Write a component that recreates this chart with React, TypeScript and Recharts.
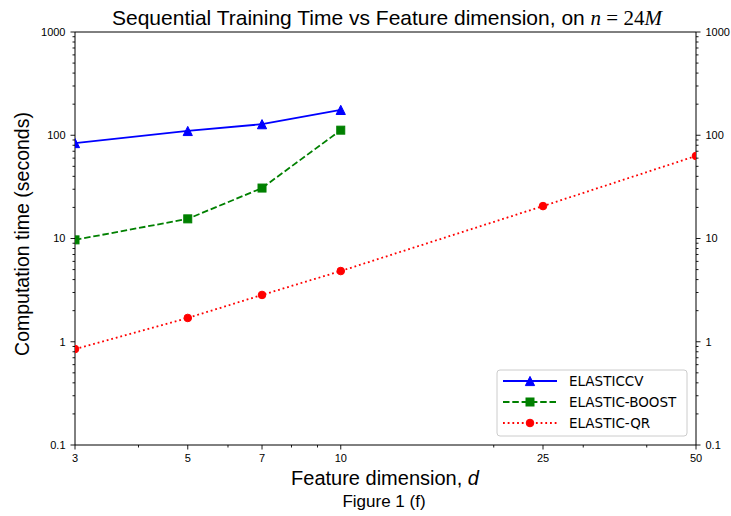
import React from 'react';
import { LineChart, Line, XAxis, YAxis, ReferenceLine } from 'recharts';

// Feature dimension d on the x axis
const featureDims = [3, 5, 7, 10, 25, 50];

// Training time in seconds for each method (missing where the method was not run)
const elasticCvSeconds = [84, 110, 128, 176];
const elasticBoostSeconds = [9.7, 15.5, 30.8, 112];
const elasticQrSeconds = [0.85, 1.7, 2.84, 4.84, 20.6, 63];

const seriesNames = ['ELASTICCV', 'ELASTIC-BOOST', 'ELASTIC-QR'];
const seriesColors = ['#0000ff', '#008000', '#ff0000'];

// Log-axis ticks: labelled majors and unlabelled minors
const xMajorTicks = [3, 5, 7, 10, 25, 50];
const xMinorTicks = [4, 6, 8, 9, 20, 30, 40];
const yMajorTicks = [0.1, 1, 10, 100, 1000];
const yMinorTicks = [
  0.2, 0.3, 0.4, 0.5, 0.6, 0.7, 0.8, 0.9,
  2, 3, 4, 5, 6, 7, 8, 9,
  20, 30, 40, 50, 60, 70, 80, 90,
  200, 300, 400, 500, 600, 700, 800, 900,
];
const yTickLabels = ['0.1', '1', '10', '100', '1000'];

const data = featureDims.map((d, i) => ({
  d,
  cv: elasticCvSeconds[i],
  boost: elasticBoostSeconds[i],
  qr: elasticQrSeconds[i],
}));

const W = 731;
const H = 516;
const GAP = 8;
const TICK_FONT = "'Liberation Sans', Arial, sans-serif";
const xTicks = [...xMajorTicks, ...xMinorTicks].sort((a, b) => a - b);
const yTicks = [...yMajorTicks, ...yMinorTicks].sort((a, b) => a - b);

const XTick = (props: any) => {
  const { x, y, payload } = props;
  const v = payload.value;
  const major = xMajorTicks.includes(v);
  const axisY = y - GAP;
  const len = major ? 4.5 : 2.5;
  return (
    <g>
      <line x1={x} x2={x} y1={axisY} y2={axisY + len} stroke="#000" strokeWidth={0.9} />
      {major && (
        <text x={x} y={axisY + 17} textAnchor="middle" fontSize={11} fontFamily={TICK_FONT} fill="#000">
          {String(v)}
        </text>
      )}
    </g>
  );
};

const makeYTick = (side: 'left' | 'right') => (props: any) => {
  const { x, y, payload } = props;
  const v = payload.value;
  const idx = yMajorTicks.indexOf(v);
  const major = idx >= 0;
  const dir = side === 'left' ? -1 : 1;
  const axisX = x - dir * GAP;
  const len = major ? 4.5 : 2.5;
  return (
    <g>
      <line x1={axisX} x2={axisX + dir * len} y1={y} y2={y} stroke="#000" strokeWidth={0.9} />
      {major && (
        <text
          x={axisX + dir * (len + 5)}
          y={y}
          dy="0.36em"
          textAnchor={side === 'left' ? 'end' : 'start'}
          fontSize={11}
          fontFamily={TICK_FONT}
          fill="#000"
        >
          {yTickLabels[idx]}
        </text>
      )}
    </g>
  );
};

type MarkerKind = 'triangle' | 'square' | 'circle';
const markerKinds: MarkerKind[] = ['triangle', 'square', 'circle'];

const Marker = ({ kind, cx, cy, color }: { kind: MarkerKind; cx: number; cy: number; color: string }) => {
  if (kind === 'triangle') {
    const s = 4.6;
    return (
      <polygon
        points={`${cx},${cy - s} ${cx - s},${cy + s} ${cx + s},${cy + s}`}
        fill={color}
        stroke={color}
        strokeWidth={1}
      />
    );
  }
  if (kind === 'square') {
    const s = 4;
    return <rect x={cx - s} y={cy - s} width={2 * s} height={2 * s} fill={color} stroke={color} strokeWidth={1} />;
  }
  return <circle cx={cx} cy={cy} r={3.8} fill={color} stroke={color} strokeWidth={1} />;
};

const makeDot = (kind: MarkerKind, color: string) => (props: any) => {
  const { cx, cy, index } = props;
  if (cx == null || cy == null || Number.isNaN(cy)) return <g key={`e-${index}`} />;
  return (
    <g key={`m-${index}`}>
      <Marker kind={kind} cx={cx} cy={cy} color={color} />
    </g>
  );
};

const dashes = [undefined, '6.5 2.8', '1.8 2.9'];

const LegendBox = () => {
  const x0 = 497;
  const y0 = 370;
  const rowH = 21;
  return (
    <g>
      <rect x={x0} y={y0} width={190} height={66} rx={3} fill="#fff" fillOpacity={0.8} stroke="#cccccc" strokeWidth={1} />
      {seriesNames.map((name, i) => {
        const cy = y0 + 11 + i * rowH;
        return (
          <g key={name}>
            <line
              x1={x0 + 6}
              x2={x0 + 60}
              y1={cy}
              y2={cy}
              stroke={seriesColors[i]}
              strokeWidth={1.8}
              strokeDasharray={dashes[i]}
            />
            <Marker kind={markerKinds[i]} cx={x0 + 33} cy={cy} color={seriesColors[i]} />
            <text
              x={x0 + 72}
              y={cy}
              dy="0.36em"
              fontSize={13.5}
              fontFamily="'DejaVu Sans', sans-serif"
              fill="#000"
            >
              {name}
            </text>
          </g>
        );
      })}
    </g>
  );
};

export default function App() {
  return (
    <div style={{ position: 'absolute', left: 0, top: 0, width: W, height: H, background: '#fff' }}>
      <LineChart width={W} height={H} data={data} margin={{ top: 32, right: 0, bottom: 0, left: 0 }}>
        <XAxis
          dataKey="d"
          type="number"
          scale="log"
          domain={[3, 50]}
          allowDataOverflow
          ticks={xTicks}
          interval={0}
          tickSize={0}
          tickMargin={GAP}
          tickLine={false}
          tick={XTick}
          height={71}
          axisLine={{ stroke: '#000', strokeWidth: 1 }}
        />
        <YAxis
          yAxisId="left"
          type="number"
          scale="log"
          domain={[0.1, 1000]}
          allowDataOverflow
          ticks={yTicks}
          interval={0}
          tickSize={0}
          tickMargin={GAP}
          tickLine={false}
          tick={makeYTick('left')}
          width={75}
          axisLine={{ stroke: '#000', strokeWidth: 1 }}
        />
        <YAxis
          yAxisId="right"
          orientation="right"
          type="number"
          scale="log"
          domain={[0.1, 1000]}
          allowDataOverflow
          ticks={yTicks}
          interval={0}
          tickSize={0}
          tickMargin={GAP}
          tickLine={false}
          tick={makeYTick('right')}
          width={35}
          axisLine={{ stroke: '#000', strokeWidth: 1 }}
        />
        <ReferenceLine yAxisId="left" y={1000} stroke="#000" strokeWidth={1} />
        <Line
          yAxisId="left"
          dataKey="cv"
          name={seriesNames[0]}
          stroke={seriesColors[0]}
          strokeWidth={1.8}
          dot={makeDot('triangle', seriesColors[0])}
          isAnimationActive={false}
        />
        <Line
          yAxisId="left"
          dataKey="boost"
          name={seriesNames[1]}
          stroke={seriesColors[1]}
          strokeWidth={1.8}
          strokeDasharray={dashes[1]}
          dot={makeDot('square', seriesColors[1])}
          isAnimationActive={false}
        />
        <Line
          yAxisId="left"
          dataKey="qr"
          name={seriesNames[2]}
          stroke={seriesColors[2]}
          strokeWidth={1.8}
          strokeDasharray={dashes[2]}
          dot={makeDot('circle', seriesColors[2])}
          isAnimationActive={false}
        />
      </LineChart>
      <svg
        width={W}
        height={H}
        style={{ position: 'absolute', left: 0, top: 0, pointerEvents: 'none' }}
      >
        <text x={112} y={25} fontSize={21} fontFamily="'Liberation Sans', Arial, sans-serif" fill="#000">
          Sequential Training Time vs Feature dimension, on{' '}
          <tspan fontFamily="'Liberation Serif', 'DejaVu Serif', serif" fontStyle="italic">n</tspan>
          <tspan fontFamily="'Liberation Serif', 'DejaVu Serif', serif"> = 24</tspan>
          <tspan fontFamily="'Liberation Serif', 'DejaVu Serif', serif" fontStyle="italic">M</tspan>
        </text>
        <text
          x={385}
          y={485}
          textAnchor="middle"
          fontSize={20}
          fontFamily="'Liberation Sans', Arial, sans-serif"
          fill="#000"
        >
          Feature dimension, <tspan fontStyle="italic">d</tspan>
        </text>
        <text
          x={384}
          y={507}
          textAnchor="middle"
          fontSize={17}
          fontFamily="'Liberation Sans', Arial, sans-serif"
          fill="#000"
        >
          Figure 1 (f)
        </text>
        <text
          x={29}
          y={234}
          textAnchor="middle"
          transform="rotate(-90 29 234)"
          fontSize={19.5}
          fontFamily="'Liberation Sans', Arial, sans-serif"
          fill="#000"
        >
          Computation time (seconds)
        </text>
        <LegendBox />
      </svg>
    </div>
  );
}
